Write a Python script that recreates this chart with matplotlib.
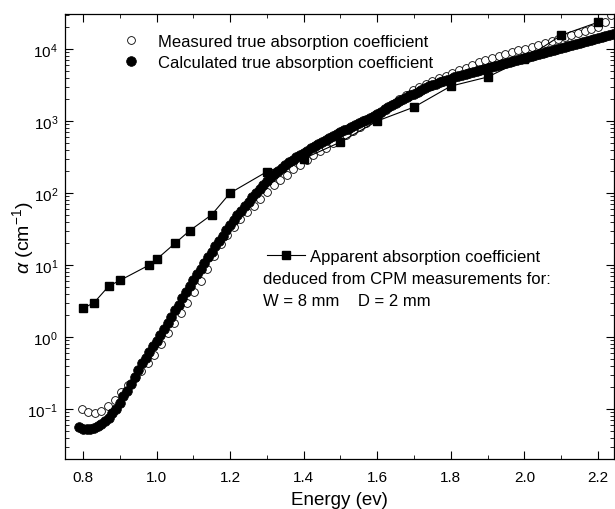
import numpy as np
import matplotlib
matplotlib.use("Agg")
import matplotlib.pyplot as plt
from matplotlib.ticker import MultipleLocator, LogLocator, NullFormatter, FixedLocator

plt.rcParams['font.family'] = ['Liberation Sans', 'DejaVu Sans']
plt.rcParams['mathtext.fontset'] = 'custom'
plt.rcParams['mathtext.rm'] = 'Liberation Sans'
plt.rcParams['mathtext.it'] = 'Liberation Sans:italic'

# measured true absorption coefficient (open circles), step 0.018 eV from 0.796
E_meas = np.round(0.796 + 0.018 * np.arange(81), 3)
a_meas = [0.100, 0.091, 0.089, 0.095, 0.110, 0.135, 0.170, 0.215, 0.27, 0.34,
          0.44, 0.57, 0.79, 1.12, 1.55, 2.15, 3.0, 4.2, 6.0, 8.8,
          13.5, 19.5, 26, 34, 44, 55, 67, 83, 103, 128,
          153, 180, 213, 248, 290, 338, 380, 425, 490, 560,
          640, 730, 830, 940, 1080, 1200, 1420, 1700, 2000, 2300,
          2700, 3000, 3300, 3600, 3900, 4250, 4650, 5050, 5500, 6000,
          6500, 7000, 7500, 8000, 8500, 9100, 9600, 10100, 10500, 11200,
          12000, 12800, 13700, 14600, 15600, 16700, 17900, 19000, 20400, 24000,
          30000]

# calculated true absorption coefficient (filled circles), step 0.01 eV from 0.79
E_calc = np.round(0.79 + 0.01 * np.arange(147), 2)
a_calc = [0.056, 0.053, 0.052, 0.052, 0.054, 0.058, 0.062, 0.068, 0.076, 0.087,
          0.10, 0.12, 0.15, 0.18, 0.22, 0.28, 0.35, 0.43, 0.51, 0.62,
          0.74, 0.89, 1.07, 1.29, 1.58, 1.91, 2.34, 2.82, 3.47, 4.17,
          5.13, 6.17, 7.41, 8.91, 10.7, 12.9, 15.1, 18.2, 21.4, 25.7,
          30.2, 35.5, 41.7, 49.0, 56.9, 66.1, 75.9, 87.1, 100, 115,
          130, 148, 166, 184, 204, 224, 245, 269, 292, 316,
          339, 363, 389, 417, 447, 479, 513, 550, 582, 617,
          661, 700, 741, 785, 832, 881, 933, 989, 1047, 1109,
          1175, 1259, 1349, 1445, 1549, 1660, 1778, 1884, 1995, 2138,
          2265, 2399, 2541, 2692, 2851, 3020, 3162, 3311, 3467, 3631,
          3758, 3890, 4027, 4169, 4315, 4467, 4624, 4786, 4955, 5129,
          5309, 5495, 5649, 5808, 5970, 6138, 6310, 6531, 6761, 6998,
          7244, 7499, 7762, 8035, 8318, 8610, 8913, 9183, 9462, 9772,
          10070, 10380, 10700, 11000, 11350, 11700, 12050, 12400, 12800, 13200,
          13600, 14050, 14500, 14950, 15400, 15900, 16400]

# apparent absorption coefficient from CPM
E_cpm = [0.80, 0.83, 0.87, 0.90, 0.98, 1.00, 1.05, 1.09, 1.15, 1.20,
         1.30, 1.40, 1.50, 1.60, 1.70, 1.80, 1.90, 2.00, 2.10, 2.20]
a_cpm = [2.5, 3.0, 5.1, 6.1, 10, 12, 20, 30, 50, 100,
         198, 300, 510, 1000, 1560, 3050, 4080, 7200, 15500, 23500]

y_major = [1e-1, 1e0, 1e1, 1e2, 1e3, 1e4]

fig = plt.figure(figsize=(6.15, 5.1), dpi=100)
ax = fig.add_axes([0.1057, 0.098, 0.8928, 0.8726])

h_meas, = ax.plot(E_meas, a_meas, 'o', ms=5.6, mfc='white', mec='black', mew=0.6,
                  ls='none', zorder=2)
h_calc, = ax.plot(E_calc, a_calc, 'o', ms=7.0, mfc='black', mec='black', mew=0.5,
                  ls='none', zorder=3)
h_cpm, = ax.plot(E_cpm, a_cpm, 's-', color='black', ms=5.5, lw=0.8, zorder=4)

ax.set_yscale('log')
ax.set_xlim(0.751, 2.244)
ax.set_ylim(10 ** -1.694, 10 ** 4.486)

ax.xaxis.set_major_locator(MultipleLocator(0.2))
ax.xaxis.set_minor_locator(MultipleLocator(0.1))
ax.yaxis.set_major_locator(FixedLocator(y_major))
ax.yaxis.set_minor_locator(LogLocator(base=10, subs=np.arange(2, 10), numticks=20))
ax.yaxis.set_minor_formatter(NullFormatter())
ax.tick_params(which='both', direction='in', top=True, right=True, labelsize=11)
ax.tick_params(which='major', length=6, width=0.8)
ax.tick_params(which='minor', length=3, width=0.6)
ax.tick_params(axis='x', which='major', pad=8)
ax.tick_params(axis='y', which='major', pad=5)
for s in ax.spines.values():
    s.set_linewidth(0.9)

ax.set_xlabel("Energy (ev)", fontsize=13.5, labelpad=5)
ax.set_ylabel(r"$\alpha$ (cm$^{-1}$)", fontsize=14, labelpad=-6.5)

leg1 = ax.legend([h_meas, h_calc],
                 ["Measured true absorption coefficient",
                  "Calculated true absorption coefficient"],
                 loc='upper left', bbox_to_anchor=(0.09, 0.97), frameon=False,
                 fontsize=12, handlelength=1.2, handletextpad=1.0,
                 labelspacing=0.35, borderaxespad=0)
ax.add_artist(leg1)
ax.legend([h_cpm], ["Apparent absorption coefficient"],
          loc='upper left', bbox_to_anchor=(0.356, 0.488), frameon=False,
          fontsize=12, handlelength=2.3, handletextpad=0.3, borderaxespad=0)
ax.text(0.361, 0.405, "deduced from CPM measurements for:", transform=ax.transAxes,
        fontsize=12, va='center')
ax.text(0.361, 0.356, "W = 8 mm    D = 2 mm", transform=ax.transAxes,
        fontsize=12, va='center')

fig.savefig("out.png", dpi=100)
